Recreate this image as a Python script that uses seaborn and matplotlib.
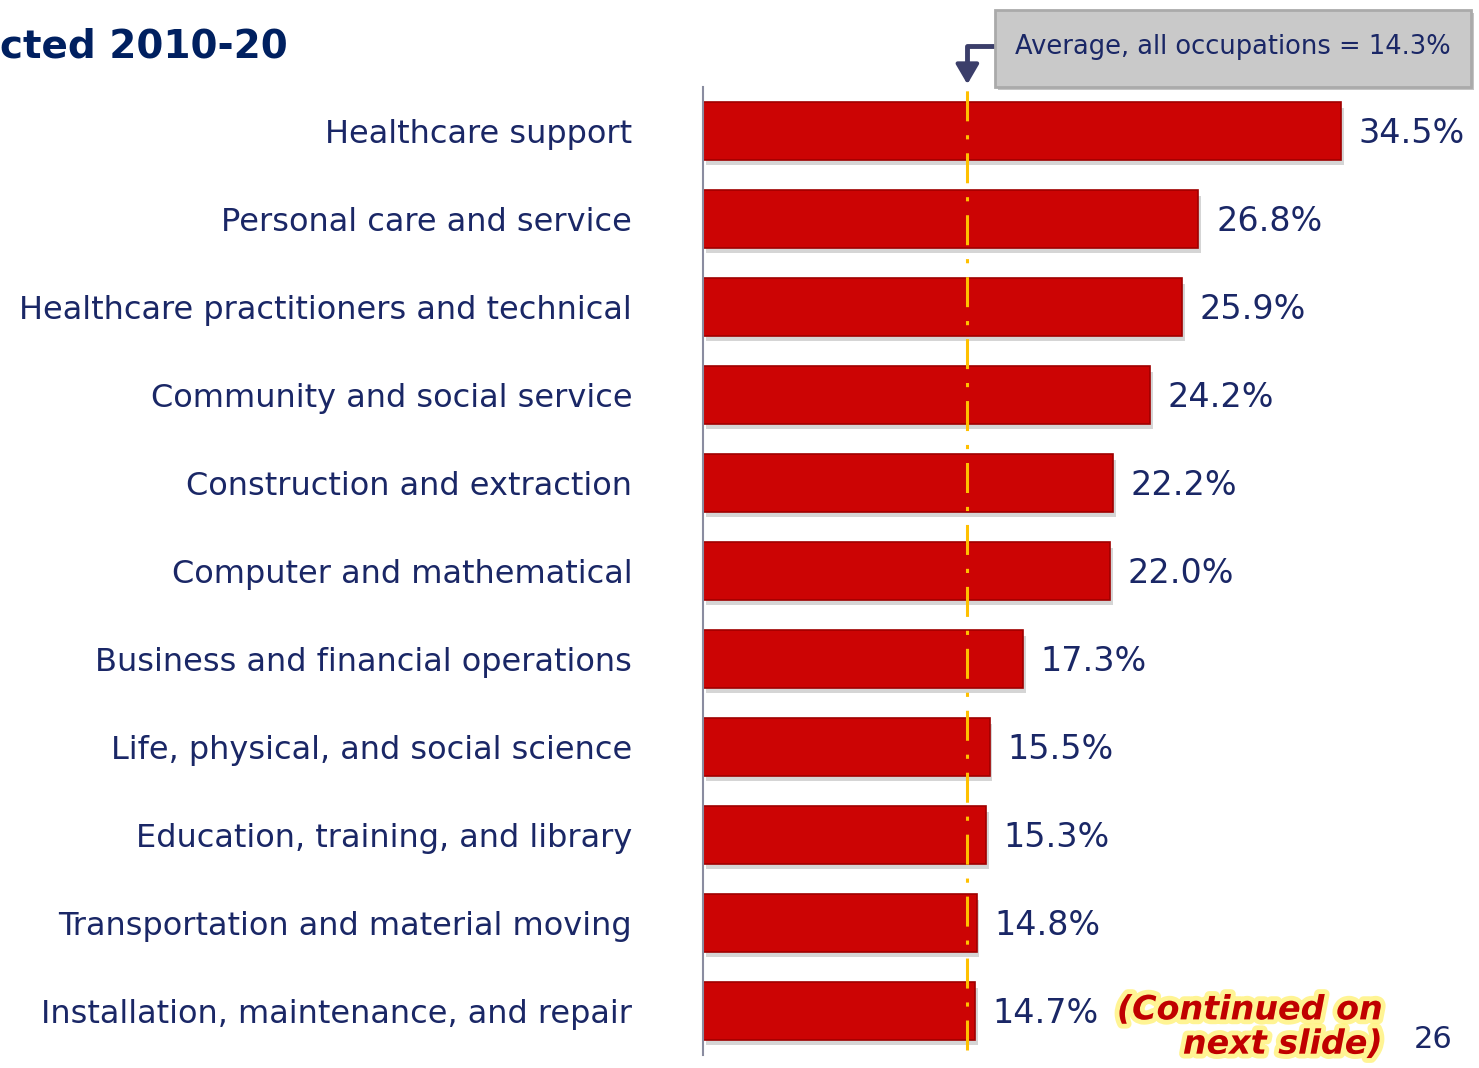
import matplotlib
matplotlib.use("Agg")
import matplotlib.pyplot as plt
import matplotlib.patheffects as pe
from matplotlib.patches import FancyBboxPatch, FancyArrowPatch
from matplotlib.transforms import blended_transform_factory
import seaborn as sns
import pandas as pd

categories = [
    "Healthcare support",
    "Personal care and service",
    "Healthcare practitioners and technical",
    "Community and social service",
    "Construction and extraction",
    "Computer and mathematical",
    "Business and financial operations",
    "Life, physical, and social science",
    "Education, training, and library",
    "Transportation and material moving",
    "Installation, maintenance, and repair",
]
values = [34.5, 26.8, 25.9, 24.2, 22.2, 22.0, 17.3, 15.5, 15.3, 14.8, 14.7]
average = 14.3
title_text = "cted 2010-20"
avg_label = "Average, all occupations = 14.3%"
continued_text = "(Continued on\nnext slide)"
page_number = "26"

sns.set_theme(style="white")
plt.rcParams["font.family"] = ["DejaVu Sans"]
plt.rcParams["lines.scale_dashes"] = False

NAVY = "#1a2766"
W, H = 1479, 1068
fig = plt.figure(figsize=(W / 100, H / 100), dpi=100)
ax = fig.add_axes([703 / W, 1 - 1055 / H, 758 / W, 968 / H])

df = pd.DataFrame({"category": categories, "value": values})
sns.barplot(data=df, x="value", y="category", orient="h", color="#cc0404",
            width=0.65, saturation=1, ax=ax, edgecolor="#a00000", linewidth=1.2)
for p in ax.patches:
    p.set_path_effects([pe.SimplePatchShadow(offset=(2, -4), shadow_rgbFace="#888888", alpha=0.35),
                        pe.Normal()])

ax.set_xlim(0, 41)
ax.set_ylim(10.5, -0.5)
ax.set_xlabel("")
ax.set_ylabel("")
ax.set_xticks([])
for s in ["top", "right", "bottom"]:
    ax.spines[s].set_visible(False)
ax.spines["left"].set_color("#8a8ca0")
ax.spines["left"].set_linewidth(1.5)
ax.tick_params(axis="y", length=0, pad=51, labelsize=23, labelcolor=NAVY)

for i, v in enumerate(values):
    ax.text(v + 0.95, i + 0.03, f"{v:.1f}%", va="center", ha="left", fontsize=24, color=NAVY)

ax.axvline(average, ymin=0.005, ymax=1.0, color="#ffc000", linewidth=2.2,
           dashes=(21.6, 10, 3, 10), zorder=5)

# title fragment
fig.text(0 / W, 1 - 47 / H, title_text, fontsize=28, fontweight="bold", color="#002060",
         ha="left", va="center")

# average box
box = FancyBboxPatch((995 / W, 1 - 87 / H), 476 / W, 77 / H, boxstyle="square,pad=0",
                     transform=fig.transFigure, facecolor="#c9c9c9", edgecolor="#aaaaaa",
                     linewidth=2, zorder=3)
box.set_path_effects([pe.SimplePatchShadow(offset=(2, -2), alpha=0.3), pe.Normal()])
fig.patches.append(box)
fig.text(1233 / W, 1 - 47 / H, avg_label, fontsize=18.5, color=NAVY, ha="center", va="center", zorder=4)

# connector arrow (x in data units, y in figure units)
tr = blended_transform_factory(ax.transData, fig.transFigure)
box_left = ax.transData.inverted().transform(fig.transFigure.transform((995 / W, 0)))[0]
fig.add_artist(plt.Line2D([box_left, average, average], [1 - 46 / H, 1 - 46 / H, 1 - 70 / H],
                          transform=tr, color="#3b3e6a", linewidth=3.5))
fig.add_artist(FancyArrowPatch((average, 1 - 60 / H), (average, 1 - 87 / H), transform=tr,
                               arrowstyle="-|>,head_length=0.6,head_width=0.35",
                               mutation_scale=20, color="#3b3e6a", linewidth=3))

# continued note
fig.text(1383 / W, 1 - 1027 / H, continued_text, fontsize=24, fontweight="bold", style="italic",
         color="#c00000", ha="right", va="center", linespacing=1.05,
         path_effects=[pe.withStroke(linewidth=7, foreground="#fff27a", alpha=0.8)])
fig.text(1433 / W, 1 - 1040 / H, page_number, fontsize=22, color=NAVY, ha="center", va="center")

fig.savefig("out.png", dpi=100)
